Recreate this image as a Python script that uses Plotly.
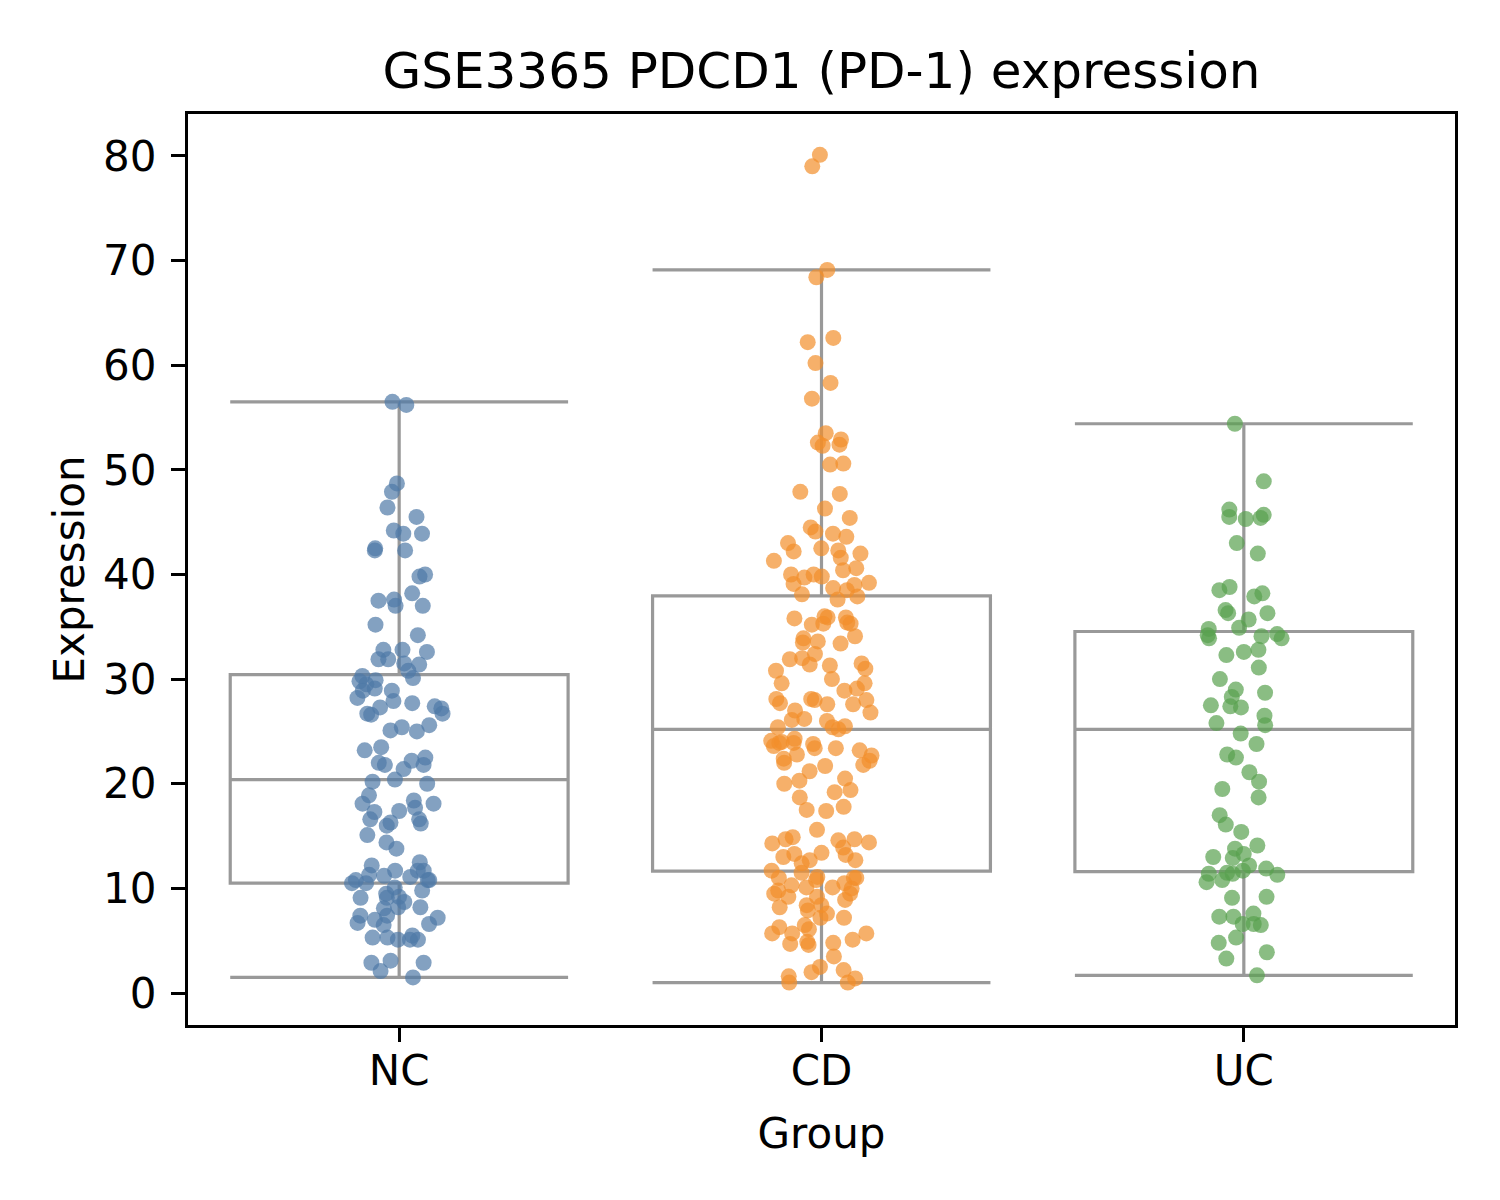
import plotly.graph_objects as go

groups = ["NC", "CD", "UC"]

nc_values = [56.5, 56.2, 48.7, 47.9, 46.4, 45.5, 44.2, 43.9, 43.9, 42.5, 42.3, 42.3,
             40.0, 39.8, 38.2, 37.6, 37.5, 37.0, 37.0, 35.2, 34.2, 32.8, 32.6, 32.8,
             31.9, 31.5, 31.9, 31.4, 30.8, 30.1, 30.3, 29.8, 29.5, 29.9, 28.9, 28.9,
             29.1, 27.9, 28.2, 27.4, 27.7, 27.3, 27.2, 26.7, 26.6, 26.7, 25.6, 25.4,
             25.1, 25.0, 23.5, 23.2, 22.5, 22.2, 21.8, 22.0, 21.4, 21.8, 20.0, 20.4,
             20.2, 18.9, 18.4, 18.1, 17.4, 17.7, 18.1, 17.3, 16.2, 16.6, 16.3, 16.6,
             16.0, 15.1, 14.4, 13.8, 12.5, 11.7, 11.7, 12.2, 11.7, 11.3, 11.2, 10.8,
             10.5, 10.1, 10.8, 10.8, 11.1, 10.5, 9.8, 9.1, 9.5, 9.1, 9.2, 8.7, 8.2,
             8.1, 7.4, 8.2, 7.4, 7.2, 6.7, 6.6, 7.0, 6.5, 5.1, 5.5, 5.3, 5.1, 5.1,
             5.3, 2.9, 3.1, 2.9, 2.1, 1.5]

cd_values = [80.1, 79.0, 69.1, 68.4, 62.6, 62.2, 60.2, 58.3, 56.8,
             53.5, 52.3, 52.4, 52.9, 52.6, 50.5, 50.6, 47.9, 47.7, 46.3, 45.4, 44.5,
             44.1, 43.9, 43.6, 43.0, 42.2, 42.5, 42.0, 42.3, 41.6, 41.3, 40.4, 40.6,
             40.0, 40.0, 39.7, 39.8, 39.2, 39.1, 39.0, 38.7, 37.6, 38.5, 38.1,
             37.9,
             35.9, 35.8, 35.3, 35.4, 35.2, 36.0, 35.9, 35.3, 33.6, 34.1, 33.4, 33.9,
             33.5, 32.4, 32.0, 31.5, 31.9, 30.8, 31.3, 31.0, 31.4, 29.6, 30.0, 29.6,
             29.1, 28.9, 28.1, 27.7, 27.6, 28.1, 28.0, 28.0, 27.6, 26.8, 27.0, 26.0,
             26.1, 26.2, 25.4, 25.4, 25.2, 25.5, 24.3, 24.1, 24.0, 23.8, 23.9, 23.9,
             23.6, 23.2, 22.7, 23.4, 23.4, 22.2, 22.8, 22.4, 22.0, 21.8, 21.7, 21.2,
             20.5, 20.3, 20.0, 19.4, 19.2, 18.7, 17.8, 17.4, 17.5,
             15.6, 14.9, 14.4, 14.3, 13.9, 14.7, 14.6, 14.7, 13.2, 12.7, 13.4, 13.3,
             13.0, 12.7, 12.4, 11.7, 11.5, 11.0, 11.0, 10.8, 10.1, 10.5, 9.5, 9.2,
             8.2, 11.0, 10.1, 10.3, 9.5, 10.0, 11.1, 8.9, 9.8, 9.2, 8.4, 7.9, 8.4,
             7.6, 7.2, 6.5, 7.2, 6.1, 6.3, 5.7, 4.8, 5.7, 4.7, 5.7, 5.1, 4.9, 4.6,
             3.5, 2.2, 1.4, 2.5, 2.0, 1.6, 1.0, 1.0]

uc_values = [54.4, 48.9, 45.4, 45.7, 45.5, 45.3, 46.2, 43.0, 42.0, 38.5, 38.8, 37.9,
             38.2, 36.6, 36.3, 36.3, 35.7, 34.9, 34.8, 33.9, 34.2, 34.3, 33.9, 34.1,
             32.8, 32.3, 32.6, 31.1, 30.0, 28.7, 29.0, 28.3, 27.3, 27.5, 27.4, 26.5,
             25.6, 25.8, 24.8, 23.8, 22.8, 22.5, 21.1, 20.2, 19.5, 18.7, 17.0, 16.1,
             15.4, 13.8, 14.1, 13.0, 12.2, 13.3, 12.9, 11.7, 11.9, 10.8, 10.6, 11.5,
             11.3, 11.4, 11.4, 9.2, 9.1, 7.3, 7.3, 7.6, 6.6, 6.6, 6.5, 4.8, 5.3,
             3.3, 3.9, 1.7]

series = [nc_values, cd_values, uc_values]
colors = ["#4E79A7", "#F28E2B", "#59A14F"]

y_ticks = [0, 10, 20, 30, 40, 50, 60, 70, 80]

FONT = "DejaVu Sans"

fig = go.Figure()
for name, vals, col in zip(groups, series, colors):
    fig.add_trace(go.Box(
        x=[name] * len(vals),
        y=vals,
        name=name,
        boxpoints="all",
        jitter=0.3,
        pointpos=0,
        whiskerwidth=1,
        fillcolor="rgba(0,0,0,0)",
        line=dict(color="#999999", width=3.2),
        marker=dict(color=col, size=16, opacity=0.7, line=dict(width=0)),
        quartilemethod="linear",
        showlegend=False,
        hoverinfo="y",
    ))

fig.update_layout(
    width=1500,
    height=1200,
    margin=dict(l=180, r=53, t=106, b=183),
    paper_bgcolor="white",
    plot_bgcolor="white",
    boxgap=0.2,
    boxgroupgap=0,
    font=dict(family=FONT, size=42, color="black"),
    title=dict(
        text="GSE3365 PDCD1 (PD-1) expression",
        x=0.5, xref="paper",
        y=1 - 62 / 1200, yref="container", yanchor="middle",
        font=dict(family=FONT, size=50, color="black"),
    ),
    xaxis=dict(
        type="category",
        categoryorder="array",
        categoryarray=groups,
        range=[-0.5, 2.5],
        showline=True, linecolor="black", linewidth=3.3, mirror=True,
        ticks="outside", ticklen=14, tickwidth=3.3, tickcolor="black",
        showgrid=False, zeroline=False,
        tickfont=dict(family=FONT, size=42),
        ticklabelstandoff=-8,
        title=dict(text="Group", font=dict(family=FONT, size=42), standoff=26),
    ),
    yaxis=dict(
        range=[-3.05, 84.0],
        tickvals=y_ticks,
        ticktext=[str(v) for v in y_ticks],
        showline=True, linecolor="black", linewidth=3.3, mirror=True,
        ticks="outside", ticklen=14, tickwidth=3.3, tickcolor="black",
        showgrid=False, zeroline=False,
        tickfont=dict(family=FONT, size=42),
        ticklabelstandoff=6,
        title=dict(text="Expression", font=dict(family=FONT, size=42), standoff=6),
    ),
)

fig.write_html("out.html")
